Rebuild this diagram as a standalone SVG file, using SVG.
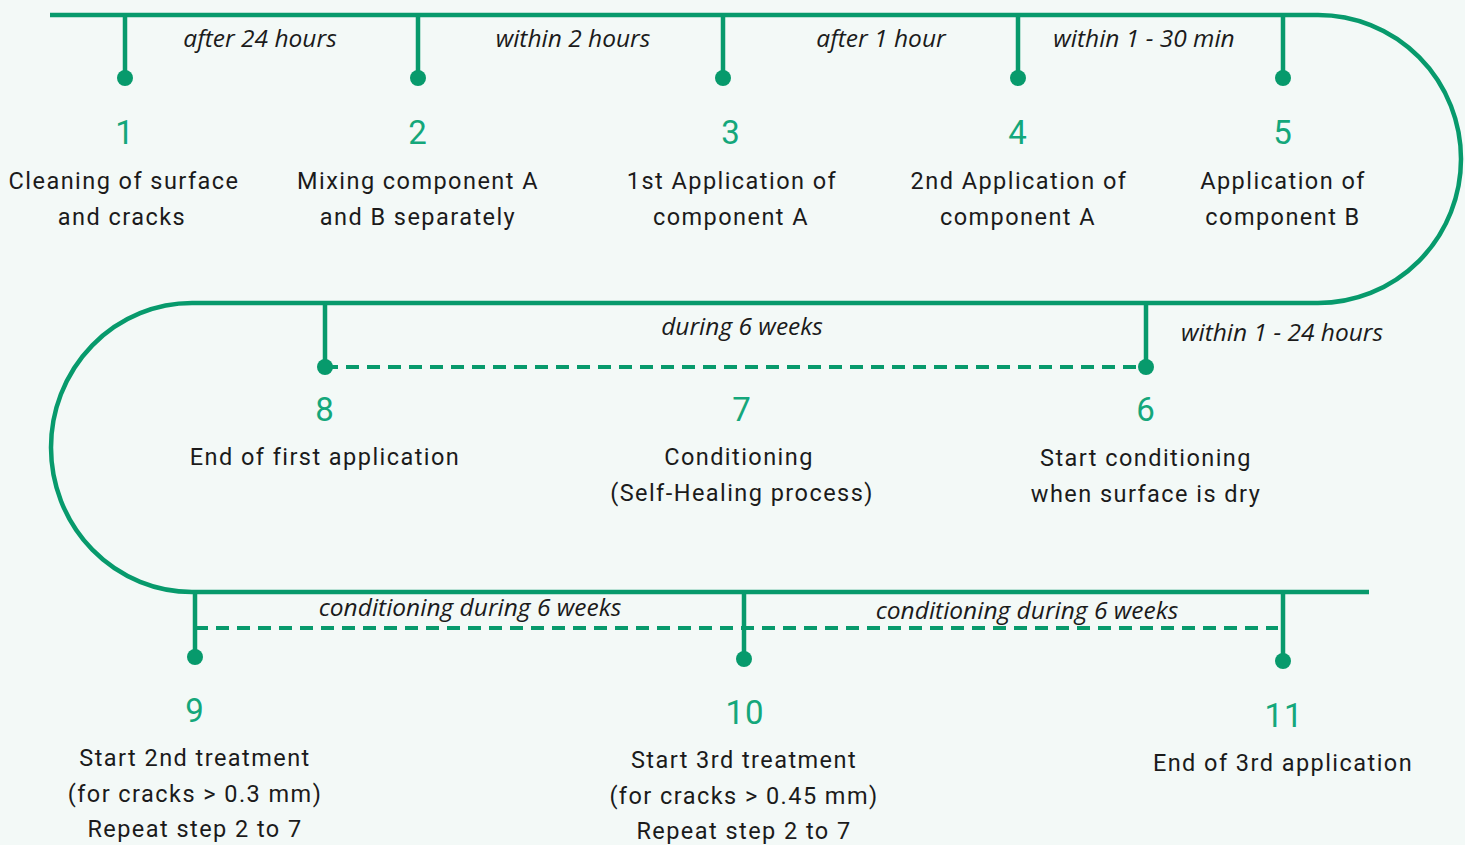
<svg xmlns="http://www.w3.org/2000/svg" width="1465" height="845" viewBox="0 0 1465 845">
<style>
.ln{fill:none;stroke:#079a6c;stroke-width:4.5}
.dash{fill:none;stroke:#079a6c;stroke-width:4;stroke-dasharray:13 8}
.dot{fill:#079a6c}
.num{font-family:Roboto,"Liberation Sans",sans-serif;font-size:33px;fill:#14a77b;text-anchor:middle;dominant-baseline:central;letter-spacing:1px}
.txt{font-family:Roboto,"Liberation Sans",sans-serif;font-size:23.5px;fill:#1b1b1b;text-anchor:middle;dominant-baseline:central;letter-spacing:1.45px}
.it{font-family:"Open Sans","DejaVu Sans",sans-serif;font-style:italic;font-size:24.5px;fill:#1b1b1b;text-anchor:middle;dominant-baseline:central}
</style>
<rect width="1465" height="845" fill="#f3f9f7"/>
<g id="connectors">
<path class="ln" d="M50 15 H1318 A143 144 0 0 1 1318 303 H192 A141 144.5 0 0 0 192 592 H1369"/>
<path class="ln" d="M125 15 V78 M418 15 V78 M723 15 V78 M1018 15 V78 M1283 15 V78"/>
<path class="ln" d="M325 303 V367 M1146 303 V367"/>
<path class="dash" d="M325 367 H1146"/>
<path class="ln" d="M195 592 V657 M744 592 V659 M1283 592 V661"/>
<path class="dash" d="M195 628 H1278"/>
<text class="it" x="260" y="37">after 24 hours</text>
<text class="it" x="573" y="37">within 2 hours</text>
<text class="it" x="881" y="37">after 1 hour</text>
<text class="it" x="1144" y="37">within 1 - 30 min</text>
<text class="it" x="742" y="325">during 6 weeks</text>
<text class="it" x="1282" y="331">within 1 - 24 hours</text>
<text class="it" x="470" y="606">conditioning during 6 weeks</text>
<text class="it" x="1027" y="609">conditioning during 6 weeks</text>
</g>
<g id="n1"><circle class="dot" cx="125" cy="78" r="8"/><text class="num" x="125" y="132">1</text><text class="txt" x="124" y="181">Cleaning of surface</text><text class="txt" x="122" y="217">and cracks</text></g>
<g id="n2"><circle class="dot" cx="418" cy="78" r="8"/><text class="num" x="418" y="132">2</text><text class="txt" x="418" y="181">Mixing component A</text><text class="txt" x="418" y="217">and B separately</text></g>
<g id="n3"><circle class="dot" cx="723" cy="78" r="8"/><text class="num" x="731" y="132">3</text><text class="txt" x="732" y="181">1st Application of</text><text class="txt" x="731" y="217">component A</text></g>
<g id="n4"><circle class="dot" cx="1018" cy="78" r="8"/><text class="num" x="1018" y="132">4</text><text class="txt" x="1019" y="181">2nd Application of</text><text class="txt" x="1018" y="217">component A</text></g>
<g id="n5"><circle class="dot" cx="1283" cy="78" r="8"/><text class="num" x="1283" y="132">5</text><text class="txt" x="1283" y="181">Application of</text><text class="txt" x="1283" y="217">component B</text></g>
<g id="n6"><circle class="dot" cx="1146" cy="367" r="8"/><text class="num" x="1146" y="409">6</text><text class="txt" x="1146" y="458">Start conditioning</text><text class="txt" x="1146" y="494">when surface is dry</text></g>
<g id="n7"><text class="num" x="742" y="409">7</text><text class="txt" x="739" y="457">Conditioning</text><text class="txt" x="742" y="493">(Self-Healing process)</text></g>
<g id="n8"><circle class="dot" cx="325" cy="367" r="8"/><text class="num" x="325" y="409">8</text><text class="txt" x="325" y="457">End of first application</text></g>
<g id="n9"><circle class="dot" cx="195" cy="657" r="8"/><text class="num" x="195" y="710">9</text><text class="txt" x="195" y="758">Start 2nd treatment</text><text class="txt" x="195" y="794">(for cracks &gt; 0.3 mm)</text><text class="txt" x="195" y="829">Repeat step 2 to 7</text></g>
<g id="n10"><circle class="dot" cx="744" cy="659" r="8"/><text class="num" x="745" y="712">10</text><text class="txt" x="744" y="760">Start 3rd treatment</text><text class="txt" x="744" y="796">(for cracks &gt; 0.45 mm)</text><text class="txt" x="744" y="831">Repeat step 2 to 7</text></g>
<g id="n11"><circle class="dot" cx="1283" cy="661" r="8"/><text class="num" x="1284" y="715">11</text><text class="txt" x="1283" y="763">End of 3rd application</text></g>
</svg>
